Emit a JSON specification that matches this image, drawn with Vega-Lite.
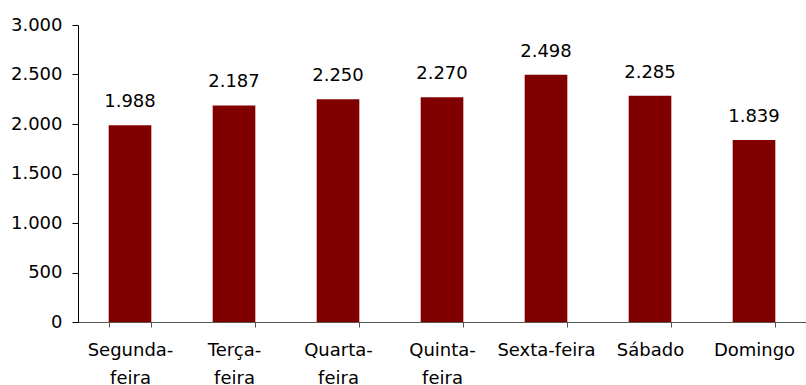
{
  "$schema": "https://vega.github.io/schema/vega-lite/v6.json",
  "autosize": "none",
  "width": 728,
  "height": 297,
  "padding": {"left": 78, "top": 25, "right": 0, "bottom": 63},
  "config": {
    "locale": {"number": {"decimal": ",", "thousands": ".", "grouping": [3], "currency": ["R$", ""]}},
    "view": {"stroke": null},
    "font": "DejaVu Sans"
  },
  "data": {
    "values": [
      {"dia": "Segunda-feira", "valor": 1988},
      {"dia": "Terça-feira", "valor": 2187},
      {"dia": "Quarta-feira", "valor": 2250},
      {"dia": "Quinta-feira", "valor": 2270},
      {"dia": "Sexta-feira", "valor": 2498},
      {"dia": "Sábado", "valor": 2285},
      {"dia": "Domingo", "valor": 1839}
    ]
  },
  "encoding": {
    "x": {
      "field": "dia", "type": "nominal", "sort": null,
      "scale": {"paddingInner": 0.59, "paddingOuter": 0.295},
      "axis": {
        "title": null, "labelAngle": 0, "tickBand": "extent",
        "labelFontSize": 18, "labelColor": "#000", "labelLineHeight": 28,
        "labelPadding": 14, "tickSize": 5, "tickColor": "#555", "domainColor": "#555",
        "labelLimit": 0,
        "labelExpr": "datum.label != 'Sexta-feira' && length(split(datum.label, '-')) > 1 ? [split(datum.label, '-')[0] + '-', split(datum.label, '-')[1]] : datum.label"
      }
    },
    "y": {
      "field": "valor", "type": "quantitative",
      "scale": {"domain": [0, 3000], "nice": false},
      "axis": {
        "title": null, "values": [0, 500, 1000, 1500, 2000, 2500, 3000],
        "format": ",d", "grid": false, "labelFontSize": 18, "labelColor": "#000",
        "labelPadding": 10, "tickSize": 6, "tickColor": "#000", "domainColor": "#000"
      }
    }
  },
  "layer": [
    {"mark": {"type": "bar", "color": "#800000"}},
    {
      "mark": {"type": "text", "baseline": "alphabetic", "dy": -18, "fontSize": 18, "color": "#000"},
      "encoding": {"text": {"field": "valor", "type": "quantitative", "format": ",d"}}
    }
  ]
}
